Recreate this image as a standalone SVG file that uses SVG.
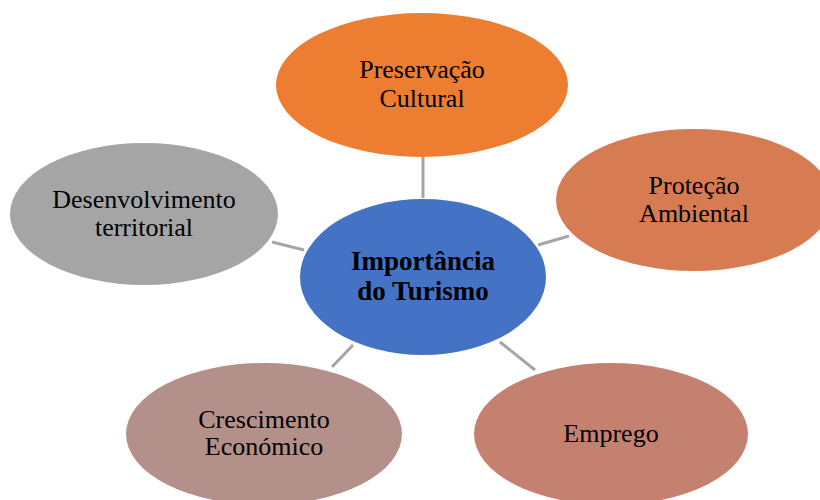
<svg xmlns="http://www.w3.org/2000/svg" width="820" height="500" viewBox="0 0 820 500">
<style>
.lbl{font-family:"Liberation Serif","Times New Roman",serif;font-size:26px;fill:#000;text-anchor:middle}
.ctr{font-family:"Liberation Serif","Times New Roman",serif;font-size:27px;font-weight:bold;fill:#000;text-anchor:middle}
.con line{stroke:#A5A5A5;stroke-width:3}
</style>
<rect width="820" height="500" fill="#fff"/>
<g id="connectors" class="con">
<line x1="423" y1="157" x2="423" y2="198"/>
<line x1="538" y1="245" x2="569" y2="236"/>
<line x1="272" y1="242" x2="304" y2="250"/>
<line x1="353" y1="345" x2="332" y2="367"/>
<line x1="500" y1="342" x2="535" y2="370"/>
</g>
<g id="preservacao">
<ellipse cx="422" cy="85" rx="146" ry="72" fill="#ED7D31"/>
<text class="lbl" x="422" y="78">Preservação</text>
<text class="lbl" x="422" y="107">Cultural</text>
</g>
<g id="protecao">
<ellipse cx="694" cy="200" rx="138" ry="71" fill="#D77B52"/>
<text class="lbl" x="694" y="194">Proteção</text>
<text class="lbl" x="694" y="222">Ambiental</text>
</g>
<g id="desenvolvimento">
<ellipse cx="144" cy="214" rx="134" ry="71" fill="#A5A5A5"/>
<text class="lbl" x="144" y="208">Desenvolvimento</text>
<text class="lbl" x="144" y="236">territorial</text>
</g>
<g id="crescimento">
<ellipse cx="264" cy="434" rx="138" ry="71" fill="#B4908A"/>
<text class="lbl" x="264" y="428">Crescimento</text>
<text class="lbl" x="264" y="455">Económico</text>
</g>
<g id="emprego">
<ellipse cx="611" cy="434" rx="137" ry="71" fill="#C5816F"/>
<text class="lbl" x="611" y="442">Emprego</text>
</g>
<g id="centro">
<ellipse cx="423" cy="277" rx="123" ry="78" fill="#4472C4"/>
<text class="ctr" x="423" y="270">Importância</text>
<text class="ctr" x="423" y="300">do Turismo</text>
</g>
</svg>
